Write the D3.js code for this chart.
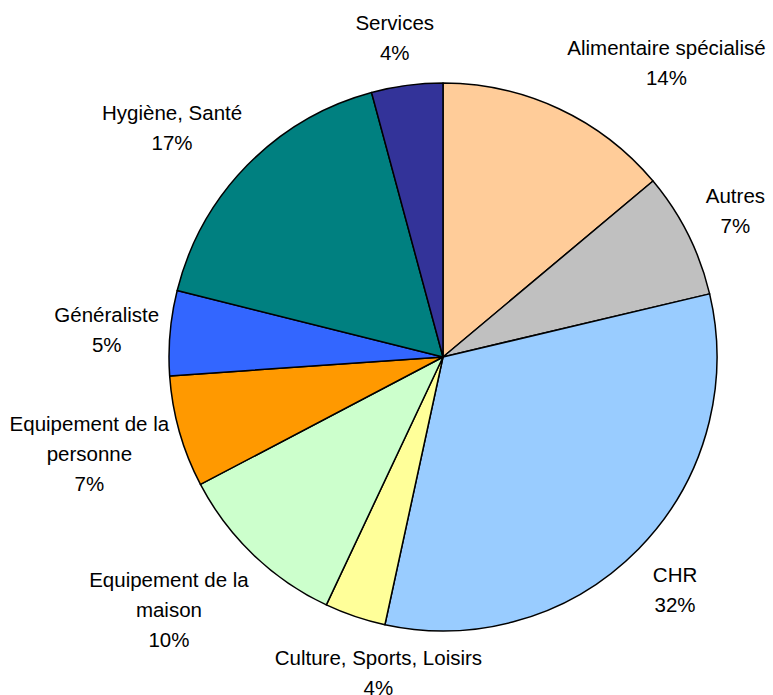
<!DOCTYPE html>
<html>
<head>
<meta charset="utf-8">
<script src="https://cdn.jsdelivr.net/npm/d3@7"></script>
<style>
  body { margin: 0; background: #fff; }
  text { font-family: "Liberation Sans", Arial, sans-serif; font-size: 20.5px; fill: #000; }
</style>
</head>
<body>
<script>
// parts by sector, clockwise from 12 o'clock
const categories = ["Alimentaire spécialisé", "Autres", "CHR", "Culture, Sports, Loisirs",
                    "Equipement de la maison", "Equipement de la personne", "Généraliste",
                    "Hygiène, Santé", "Services"];
const labelLines = [["Alimentaire spécialisé"], ["Autres"], ["CHR"], ["Culture, Sports, Loisirs"],
                    ["Equipement de la", "maison"], ["Equipement de la", "personne"], ["Généraliste"],
                    ["Hygiène, Santé"], ["Services"]];
const values = [13.9, 7.4, 32.1, 3.6, 10.3, 6.6, 5.0, 16.9, 4.2];
const colors = ["#FFCC99", "#C0C0C0", "#99CCFF", "#FFFF99", "#CCFFCC", "#FF9900", "#3366FF", "#008080", "#333399"];

const width = 773, height = 695;
const cx = 443, cy = 357, r = 274;
const lineH = 30, gap = 20;

const svg = d3.select('body')
        .append('svg')
        .attr('width', width)
        .attr('height', height);

const total = d3.sum(values);
const pie = d3.pie().sort(null).value(d => d);
const arcs = pie(values);
const arc = d3.arc().innerRadius(0).outerRadius(r);

const g = svg.append('g').attr('transform', `translate(${cx},${cy})`);

g.selectAll('path')
        .data(arcs)
        .enter()
        .append('path')
        .attr('d', arc)
        .attr('fill', (d, i) => colors[i])
        .attr('stroke', '#000')
        .attr('stroke-width', 1.5)
        .attr('stroke-linejoin', 'round');

// labels: name lines + percent
const labels = svg.selectAll('text.lab')
        .data(arcs)
        .enter()
        .append('text')
        .attr('class', 'lab')
        .attr('text-anchor', 'middle');

labels.each(function(d, i){
        const lines = labelLines[i].concat([Math.round(values[i] / total * 100) + '%']);
        const t = d3.select(this);
        lines.forEach(l => t.append('tspan').text(l));
});

// work out boxes
const boxes = [];
labels.each(function(d, i){
        const t = d3.select(this);
        let w = 0;
        t.selectAll('tspan').each(function(){ w = Math.max(w, this.getComputedTextLength()); });
        const n = t.selectAll('tspan').size();
        const h = n * lineH;
        const a = (d.startAngle + d.endAngle) / 2;
        const s = Math.sin(a), c = Math.cos(a);
        const px = cx + (r + gap) * s, py = cy - (r + gap) * c;
        const fx = Math.sign(s) * Math.min(1, Math.abs(s) * 2.4);
        const fy = Math.sign(c) * Math.min(1, Math.abs(c) * 1.2);
        // left side labels sit a bit closer to the pie
        const nudge = s < 0 ? 9 * Math.abs(fx) : 0;
        boxes.push({x: px + fx * w / 2 + nudge, y: py - fy * h / 2, w: w, h: h, n: n, c: c});
});

// push apart overlapping labels sideways
for (let i = 0; i < boxes.length; i++) {
        for (let j = 0; j < boxes.length; j++) {
                if (i == j) continue;
                const A = boxes[i], B = boxes[j];
                const ox = (A.w + B.w) / 2 - Math.abs(A.x - B.x);
                const oy = (A.h + B.h) / 2 - Math.abs(A.y - B.y);
                if (ox > 0 && oy > 0 && Math.abs(A.c) > Math.abs(B.c)) {
                        const dir = A.x >= B.x ? 1 : -1;
                        A.x = B.x + dir * ((A.w + B.w) / 2 + 26);
                        A.y += 6;
                }
        }
}

labels.each(function(d, i){
        const b = boxes[i];
        d3.select(this).selectAll('tspan')
                .attr('x', b.x)
                .attr('y', (t, k) => b.y - b.h / 2 + lineH * k + lineH / 2 + 9);
});
</script>
</body>
</html>
